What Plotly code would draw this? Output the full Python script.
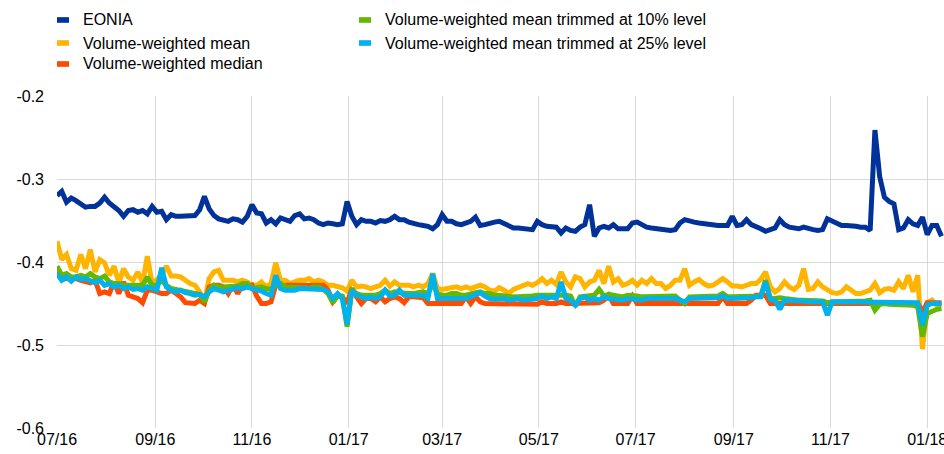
import pandas as pd
import plotly.graph_objects as go

# Observation dates: every third calendar day from 1 July 2016
dates = pd.date_range("2016-07-01", periods=187, freq="3D")

eonia = [
    -0.320, -0.315, -0.328, -0.323, -0.326, -0.331, -0.334, -0.333, -0.333, -0.329,
    -0.322, -0.329, -0.334, -0.338, -0.345, -0.338, -0.337, -0.340, -0.338, -0.342,
    -0.333, -0.340, -0.339, -0.349, -0.343, -0.345, -0.345, -0.345, -0.344, -0.344,
    -0.337, -0.321, -0.336, -0.344, -0.348, -0.350, -0.351, -0.348, -0.349, -0.352,
    -0.345, -0.331, -0.341, -0.342, -0.353, -0.349, -0.354, -0.347, -0.349, -0.351,
    -0.344, -0.342, -0.348, -0.347, -0.349, -0.353, -0.355, -0.353, -0.354, -0.355,
    -0.354, -0.327, -0.345, -0.355, -0.349, -0.351, -0.351, -0.353, -0.350, -0.351,
    -0.349, -0.345, -0.349, -0.349, -0.352, -0.354, -0.355, -0.356, -0.357, -0.360,
    -0.355, -0.343, -0.351, -0.351, -0.354, -0.355, -0.353, -0.351, -0.346, -0.356,
    -0.355, -0.353, -0.352, -0.351, -0.354, -0.357, -0.359, -0.359, -0.360, -0.361,
    -0.361, -0.351, -0.355, -0.357, -0.358, -0.358, -0.365, -0.359, -0.362, -0.363,
    -0.358, -0.355, -0.331, -0.369, -0.359, -0.357, -0.359, -0.355, -0.360, -0.360,
    -0.360, -0.353, -0.352, -0.355, -0.358, -0.359, -0.360, -0.361, -0.362, -0.362,
    -0.361, -0.353, -0.349, -0.351, -0.352, -0.353, -0.354, -0.355, -0.356, -0.356,
    -0.356, -0.356, -0.345, -0.356, -0.355, -0.349, -0.355, -0.357, -0.360, -0.363,
    -0.361, -0.359, -0.349, -0.355, -0.358, -0.359, -0.360, -0.358, -0.360, -0.361,
    -0.362, -0.361, -0.348, -0.351, -0.354, -0.356, -0.356, -0.356, -0.357, -0.358,
    -0.358, -0.362, -0.241, -0.297, -0.322, -0.327, -0.330, -0.361, -0.359, -0.349,
    -0.354, -0.356, -0.346, -0.367, -0.356, -0.356, -0.369,
]

vw_mean = [
    -0.375, -0.397, -0.391, -0.408, -0.410, -0.391, -0.408, -0.385, -0.412, -0.397,
    -0.401, -0.416, -0.405, -0.425, -0.408, -0.418, -0.422, -0.412, -0.425, -0.393,
    -0.426, -0.421, -0.416, -0.405, -0.417, -0.417, -0.418, -0.422, -0.426, -0.428,
    -0.436, -0.448, -0.420, -0.412, -0.410, -0.422, -0.422, -0.422, -0.424, -0.422,
    -0.424, -0.428, -0.428, -0.424, -0.430, -0.426, -0.401, -0.422, -0.422, -0.426,
    -0.424, -0.422, -0.422, -0.420, -0.424, -0.422, -0.424, -0.428, -0.428, -0.430,
    -0.431, -0.435, -0.422, -0.430, -0.429, -0.430, -0.432, -0.430, -0.428, -0.422,
    -0.429, -0.424, -0.428, -0.428, -0.428, -0.430, -0.428, -0.430, -0.426, -0.414,
    -0.432, -0.433, -0.432, -0.430, -0.430, -0.432, -0.430, -0.432, -0.430, -0.428,
    -0.430, -0.434, -0.435, -0.431, -0.434, -0.438, -0.433, -0.431, -0.428, -0.426,
    -0.428, -0.425, -0.420, -0.426, -0.422, -0.427, -0.412, -0.424, -0.430, -0.418,
    -0.420, -0.430, -0.424, -0.422, -0.410, -0.426, -0.405, -0.424, -0.420, -0.428,
    -0.426, -0.422, -0.428, -0.422, -0.426, -0.420, -0.426, -0.426, -0.432, -0.428,
    -0.422, -0.422, -0.408, -0.428, -0.424, -0.421, -0.426, -0.429, -0.428, -0.424,
    -0.420, -0.424, -0.429, -0.429, -0.430, -0.428, -0.426, -0.426, -0.421, -0.412,
    -0.430, -0.436, -0.432, -0.424, -0.430, -0.433, -0.428, -0.408, -0.433, -0.432,
    -0.424, -0.430, -0.434, -0.437, -0.438, -0.436, -0.430, -0.434, -0.438, -0.438,
    -0.436, -0.434, -0.426, -0.437, -0.433, -0.432, -0.434, -0.424, -0.432, -0.416,
    -0.436, -0.416, -0.505, -0.449, -0.446, -0.452, -0.452,
]

vw_median = [
    -0.411, -0.421, -0.420, -0.420, -0.420, -0.422, -0.424, -0.425, -0.422, -0.438,
    -0.436, -0.438, -0.424, -0.438, -0.424, -0.440, -0.442, -0.444, -0.449, -0.434,
    -0.434, -0.436, -0.438, -0.438, -0.434, -0.438, -0.442, -0.449, -0.450, -0.450,
    -0.446, -0.450, -0.430, -0.428, -0.428, -0.430, -0.438, -0.428, -0.438, -0.428,
    -0.430, -0.428, -0.441, -0.450, -0.450, -0.448, -0.428, -0.428, -0.428, -0.428,
    -0.428, -0.428, -0.428, -0.428, -0.428, -0.428, -0.428, -0.434, -0.448, -0.441,
    -0.442, -0.450, -0.432, -0.442, -0.450, -0.444, -0.444, -0.448, -0.442, -0.448,
    -0.444, -0.442, -0.444, -0.449, -0.442, -0.442, -0.442, -0.443, -0.450, -0.450,
    -0.450, -0.450, -0.450, -0.450, -0.450, -0.450, -0.442, -0.450, -0.442, -0.448,
    -0.450, -0.450, -0.450, -0.450, -0.450, -0.451, -0.451, -0.451, -0.451, -0.451,
    -0.451, -0.451, -0.448, -0.450, -0.450, -0.450, -0.448, -0.450, -0.450, -0.450,
    -0.450, -0.450, -0.450, -0.450, -0.449, -0.446, -0.440, -0.450, -0.450, -0.450,
    -0.450, -0.441, -0.450, -0.450, -0.450, -0.450, -0.450, -0.450, -0.450, -0.450,
    -0.450, -0.450, -0.450, -0.450, -0.450, -0.450, -0.450, -0.450, -0.450, -0.450,
    -0.442, -0.450, -0.450, -0.450, -0.450, -0.450, -0.446, -0.440, -0.440, -0.440,
    -0.450, -0.450, -0.450, -0.450, -0.450, -0.450, -0.450, -0.450, -0.450, -0.450,
    -0.450, -0.450, -0.450, -0.450, -0.450, -0.450, -0.450, -0.450, -0.450, -0.450,
    -0.450, -0.450, -0.450, -0.450, -0.450, -0.450, -0.450, -0.450, -0.450, -0.450,
    -0.450, -0.450, -0.460, -0.449, -0.449, -0.449, -0.449,
]

vw_trim10 = [
    -0.405, -0.416, -0.414, -0.418, -0.418, -0.416, -0.418, -0.414, -0.418, -0.420,
    -0.417, -0.424, -0.426, -0.426, -0.428, -0.428, -0.428, -0.429, -0.428, -0.418,
    -0.428, -0.428, -0.422, -0.428, -0.432, -0.433, -0.434, -0.435, -0.436, -0.437,
    -0.439, -0.448, -0.434, -0.428, -0.430, -0.430, -0.430, -0.430, -0.429, -0.426,
    -0.426, -0.432, -0.431, -0.430, -0.432, -0.433, -0.428, -0.426, -0.430, -0.430,
    -0.430, -0.430, -0.431, -0.432, -0.430, -0.430, -0.433, -0.438, -0.449, -0.440,
    -0.441, -0.478, -0.434, -0.438, -0.440, -0.440, -0.440, -0.440, -0.438, -0.434,
    -0.438, -0.436, -0.437, -0.438, -0.438, -0.438, -0.437, -0.436, -0.438, -0.426,
    -0.438, -0.440, -0.440, -0.438, -0.438, -0.440, -0.440, -0.438, -0.437, -0.436,
    -0.438, -0.438, -0.440, -0.440, -0.441, -0.441, -0.442, -0.442, -0.442, -0.441,
    -0.441, -0.440, -0.440, -0.440, -0.440, -0.439, -0.439, -0.440, -0.441, -0.453,
    -0.442, -0.441, -0.441, -0.440, -0.433, -0.441, -0.439, -0.440, -0.441, -0.442,
    -0.440, -0.440, -0.441, -0.442, -0.442, -0.442, -0.442, -0.442, -0.442, -0.442,
    -0.441, -0.446, -0.450, -0.442, -0.442, -0.442, -0.442, -0.442, -0.441, -0.441,
    -0.438, -0.442, -0.442, -0.442, -0.442, -0.442, -0.441, -0.441, -0.441, -0.422,
    -0.444, -0.444, -0.443, -0.444, -0.445, -0.446, -0.446, -0.446, -0.446, -0.446,
    -0.446, -0.447, -0.449, -0.448, -0.448, -0.448, -0.448, -0.448, -0.448, -0.447,
    -0.447, -0.446, -0.458, -0.451, -0.450, -0.451, -0.451, -0.451, -0.451, -0.451,
    -0.452, -0.454, -0.490, -0.462, -0.459, -0.457, -0.456,
]

vw_trim25 = [
    -0.414, -0.422, -0.418, -0.423, -0.418, -0.421, -0.420, -0.423, -0.425, -0.422,
    -0.428, -0.426, -0.430, -0.428, -0.432, -0.430, -0.433, -0.432, -0.434, -0.430,
    -0.432, -0.434, -0.407, -0.430, -0.434, -0.436, -0.434, -0.437, -0.438, -0.440,
    -0.439, -0.442, -0.436, -0.432, -0.434, -0.436, -0.434, -0.432, -0.431, -0.432,
    -0.430, -0.432, -0.433, -0.435, -0.438, -0.440, -0.416, -0.432, -0.434, -0.434,
    -0.434, -0.432, -0.432, -0.432, -0.432, -0.432, -0.433, -0.436, -0.444, -0.438,
    -0.444, -0.475, -0.434, -0.440, -0.442, -0.444, -0.442, -0.444, -0.442, -0.434,
    -0.441, -0.440, -0.434, -0.440, -0.440, -0.440, -0.440, -0.440, -0.444, -0.414,
    -0.444, -0.444, -0.444, -0.444, -0.444, -0.444, -0.444, -0.442, -0.440, -0.437,
    -0.441, -0.444, -0.445, -0.445, -0.444, -0.446, -0.445, -0.444, -0.446, -0.445,
    -0.444, -0.444, -0.441, -0.444, -0.442, -0.444, -0.424, -0.444, -0.446, -0.452,
    -0.444, -0.442, -0.446, -0.444, -0.446, -0.442, -0.444, -0.445, -0.446, -0.446,
    -0.444, -0.445, -0.446, -0.446, -0.444, -0.444, -0.444, -0.444, -0.444, -0.444,
    -0.444, -0.446, -0.448, -0.444, -0.444, -0.444, -0.444, -0.444, -0.444, -0.443,
    -0.441, -0.444, -0.444, -0.444, -0.444, -0.444, -0.443, -0.442, -0.442, -0.424,
    -0.445, -0.446, -0.457, -0.446, -0.446, -0.446, -0.446, -0.447, -0.448, -0.448,
    -0.448, -0.448, -0.464, -0.448, -0.448, -0.448, -0.448, -0.448, -0.448, -0.448,
    -0.448, -0.448, -0.449, -0.449, -0.448, -0.449, -0.449, -0.449, -0.449, -0.449,
    -0.449, -0.449, -0.476, -0.452, -0.450, -0.450, -0.450,
]

series_names = [
    "EONIA",
    "Volume-weighted mean",
    "Volume-weighted median",
    "Volume-weighted mean trimmed at 10% level",
    "Volume-weighted mean trimmed at 25% level",
]
series_colors = ["#003299", "#FFB400", "#FF4B00", "#65B800", "#00B1EA"]
y_tick_vals = [-0.6, -0.5, -0.4, -0.3, -0.2]
y_tick_text = ["-0.6", "-0.5", "-0.4", "-0.3", "-0.2"]

series_values = [eonia, vw_mean, vw_median, vw_trim10, vw_trim25]

FONT = "Liberation Sans, Arial, sans-serif"

fig = go.Figure()
for name, color, vals in zip(series_names, series_colors, series_values):
    fig.add_trace(go.Scatter(
        x=dates, y=vals, name=name, mode="lines",
        line=dict(color=color, width=5),
        showlegend=False,
    ))

# Manual legend (two columns, small rectangular swatches)
legend_slots = [
    (0.000, 1.2290), (0.000, 1.1596), (0.000, 1.0964),
    (0.3405, 1.2290), (0.3405, 1.1596),
]
for (lx, ly), name, color in zip(legend_slots, series_names, series_colors):
    fig.add_shape(type="rect", xref="paper", yref="paper",
                  x0=lx, x1=lx + 0.0135, y0=ly - 0.0085, y1=ly + 0.0085,
                  fillcolor=color, line=dict(width=0))
    fig.add_annotation(xref="paper", yref="paper", x=lx + 0.0265, y=ly,
                       text=name, showarrow=False, xanchor="left", yanchor="middle",
                       font=dict(family=FONT, size=16, color="#000000"))

fig.update_layout(
    width=944, height=454,
    margin=dict(l=57, r=0, t=96, b=26, autoexpand=False),
    paper_bgcolor="white", plot_bgcolor="white",
    font=dict(family=FONT, size=16, color="#000000"),
    xaxis=dict(
        type="date",
        range=["2016-07-01", "2018-01-11 14:00"],
        tick0="2016-07-01", dtick="M2", tickformat="%m/%y",
        showgrid=True, gridcolor="#d9d9d9", gridwidth=1,
        zeroline=False, showline=False, ticks="",
        automargin=False, ticklabeloverflow="allow",
        tickfont=dict(family=FONT, size=16, color="#000000"),
    ),
    yaxis=dict(
        range=[-0.6, -0.2],
        tickmode="array", tickvals=y_tick_vals, ticktext=y_tick_text,
        showgrid=True, gridcolor="#d9d9d9", gridwidth=1,
        zeroline=False, showline=False, ticks="",
        automargin=False,
        ticklabelstandoff=12,
        tickfont=dict(family=FONT, size=16, color="#000000"),
    ),
)

fig.write_html(
    "out.html",
    config={"displayModeBar": False},
    post_script="document.body.style.margin='0';document.body.style.overflow='hidden';",
)
